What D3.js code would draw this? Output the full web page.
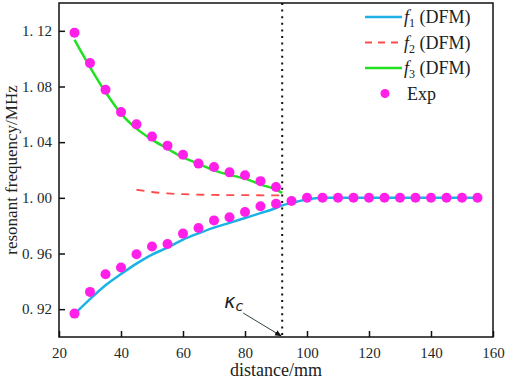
<!DOCTYPE html>
<html>
<head>
<meta charset="utf-8">
<script src="https://cdn.jsdelivr.net/npm/d3@7"></script>
<style>
  body { margin: 0; background: #fff; }
  svg text { font-family: "Liberation Serif", "Times New Roman", serif; fill: #1a2222; }
</style>
</head>
<body>
<div id="chart"></div>
<script>
// f1 (DFM) – lower branch, flattens to 1.00 after the critical distance
const f1X = [25, 30, 35, 40, 45, 50, 55, 60, 65, 70, 75, 80, 85, 90, 92, 95, 100, 105, 110, 120, 130, 140, 150, 155];
const f1Y = [0.9165, 0.9272, 0.9372, 0.9452, 0.9527, 0.9592, 0.9642, 0.970, 0.9745, 0.9786, 0.982, 0.9855, 0.989, 0.9927, 0.9946, 0.9963, 0.9989, 1.0, 1.0, 1.0, 1.0, 1.0, 1.0, 1.0];

// f2 (DFM) – dashed, close to 1.00
const f2X = [45, 50, 55, 60, 70, 80, 92];
const f2Y = [1.0058, 1.0042, 1.0032, 1.0026, 1.0021, 1.0019, 1.0018];

// f3 (DFM) – upper branch
const f3X = [25, 30, 35, 40, 45, 50, 55, 60, 65, 70, 75, 80, 85, 90, 92];
const f3Y = [1.1136, 1.094, 1.076, 1.0605, 1.0497, 1.0418, 1.0353, 1.029, 1.0245, 1.0197, 1.0165, 1.0138, 1.0095, 1.0059, 1.0035];

// experimental points
const expX = [25, 30, 35, 40, 45, 50, 55, 60, 65, 70, 75, 80, 85, 90,
              25, 30, 35, 40, 45, 50, 55, 60, 65, 70, 75, 80, 85, 90,
              95, 100, 105, 110, 115, 120, 125, 130, 135, 140, 145, 150, 155];
const expY = [1.1187, 1.0968, 1.0777, 1.0616, 1.0528, 1.044, 1.0375, 1.031, 1.0246, 1.0221, 1.0183, 1.0162, 1.012, 1.0078,
              0.9168, 0.9324, 0.9451, 0.9499, 0.9594, 0.965, 0.9668, 0.9743, 0.9783, 0.9838, 0.986, 0.9898, 0.9939, 0.9958,
              0.9977, 1.0, 1.0, 1.0, 1.0, 1.0, 1.0, 1.0, 1.0, 1.0, 1.0, 1.0, 1.0];

const xTicks = [20, 40, 60, 80, 100, 120, 140, 160];
const yTicks = [0.92, 0.96, 1.00, 1.04, 1.08, 1.12];
const kappaC = 92;

const W = 505, H = 383;
const margin = { top: 3, right: 12, bottom: 46, left: 59 };
const width = W - margin.left - margin.right;
const height = H - margin.top - margin.bottom;

const colors = { f1: "#1cb2e6", f2: "#ff4b4b", f3: "#22e022", exp: "#ff1fe8" };

const svg = d3.select("#chart").append("svg")
  .attr("width", W)
  .attr("height", H);

const defs = svg.append("defs");
defs.append("marker")
  .attr("id", "arrow")
  .attr("viewBox", "0 0 10 10")
  .attr("refX", 9).attr("refY", 5)
  .attr("markerWidth", 7).attr("markerHeight", 7)
  .attr("orient", "auto")
  .append("path")
  .attr("d", "M0,1 L10,5 L0,9 Z")
  .attr("fill", "#111");

const g = svg.append("g")
  .attr("transform", `translate(${margin.left},${margin.top})`);

const x = d3.scaleLinear().domain([20, 160]).range([0, width]);
const y = d3.scaleLinear().domain([0.90, 1.14]).range([height, 0]);

// axes with inward ticks
const xAxis = g.append("g")
  .attr("transform", `translate(0,${height})`)
  .call(d3.axisBottom(x).tickValues(xTicks).tickSizeInner(-6).tickSizeOuter(0).tickPadding(10).tickFormat(d3.format("d")));
const yAxis = g.append("g")
  .call(d3.axisLeft(y).tickValues(yTicks).tickSizeInner(-6).tickSizeOuter(0).tickPadding(7)
    .tickFormat(d => d3.format(".2f")(d).replace(".", ". ")));

[xAxis, yAxis].forEach(a => {
  a.select(".domain").remove();
  a.selectAll(".tick line").attr("stroke", "#111").attr("stroke-width", 1.5);
  a.selectAll("text").attr("font-size", "15px").style("fill", "#1a2a2a");
});

// frame
g.append("rect")
  .attr("x", 0).attr("y", 0)
  .attr("width", width).attr("height", height)
  .attr("fill", "none")
  .attr("stroke", "#111")
  .attr("stroke-width", 1.5);

// axis labels
g.append("text")
  .attr("x", width / 2)
  .attr("y", height + 39)
  .attr("text-anchor", "middle")
  .attr("font-size", "18px")
  .text("distance/mm");

g.append("text")
  .attr("transform", "rotate(-90)")
  .attr("x", -height / 2)
  .attr("y", -42)
  .attr("text-anchor", "middle")
  .attr("font-size", "17px")
  .text("resonant frequency/MHz");

// critical distance
g.append("line")
  .attr("x1", x(kappaC)).attr("x2", x(kappaC))
  .attr("y1", 0).attr("y2", height)
  .attr("stroke", "#111")
  .attr("stroke-width", 2)
  .attr("stroke-dasharray", "2,4.6");

const line = d3.line()
  .x(d => x(d[0]))
  .y(d => y(d[1]))
  .curve(d3.curveMonotoneX);

g.append("path")
  .datum(f2X.map((v, i) => [v, f2Y[i]]))
  .attr("d", line)
  .attr("fill", "none")
  .attr("stroke", colors.f2)
  .attr("stroke-width", 1.8)
  .attr("stroke-dasharray", "8,7");

g.append("path")
  .datum(f3X.map((v, i) => [v, f3Y[i]]))
  .attr("d", line)
  .attr("fill", "none")
  .attr("stroke", colors.f3)
  .attr("stroke-width", 2.5);

g.append("path")
  .datum(f1X.map((v, i) => [v, f1Y[i]]))
  .attr("d", line)
  .attr("fill", "none")
  .attr("stroke", colors.f1)
  .attr("stroke-width", 2.5);

g.selectAll(".exp")
  .data(expX.map((v, i) => [v, expY[i]]))
  .enter()
  .append("circle")
  .attr("class", "exp")
  .attr("cx", d => x(d[0]))
  .attr("cy", d => y(d[1]))
  .attr("r", 5)
  .attr("fill", colors.exp);

// kappa_c annotation
const kLabel = g.append("text")
  .attr("x", x(kappaC) - 58)
  .attr("y", 305)
  .attr("font-size", "19px")
  .style("font-family", "'DejaVu Sans', sans-serif")
  .style("font-style", "italic");
kLabel.append("tspan").text("κ");
kLabel.append("tspan").attr("font-size", "14px").attr("dy", 3).text("c");

g.append("line")
  .attr("x1", x(kappaC) - 39).attr("y1", 310)
  .attr("x2", x(kappaC) - 1).attr("y2", height - 1)
  .attr("stroke", "#2f4444")
  .attr("stroke-width", 1)
  .attr("marker-end", "url(#arrow)");

// legend
const legendRows = [
  { key: "f1", sub: "1", type: "line" },
  { key: "f2", sub: "2", type: "dash" },
  { key: "f3", sub: "3", type: "line" },
  { key: "exp", type: "dot" }
];

const legend = svg.append("g").attr("transform", "translate(365,17)");
const rows = legend.selectAll(".legend-item")
  .data(legendRows)
  .enter()
  .append("g")
  .attr("class", "legend-item")
  .attr("transform", (d, i) => `translate(0, ${i * 25.5})`);

rows.filter(d => d.type !== "dot").append("line")
  .attr("x1", 0).attr("x2", 37)
  .attr("y1", 0).attr("y2", 0)
  .attr("stroke", d => colors[d.key])
  .attr("stroke-width", d => d.type === "dash" ? 1.8 : 2.5)
  .attr("stroke-dasharray", d => d.type === "dash" ? "7,6" : null);

rows.filter(d => d.type === "dot").append("circle")
  .attr("cx", 20).attr("cy", 0).attr("r", 4.5)
  .attr("fill", colors.exp);

const legendText = rows.append("text")
  .attr("x", d => d.type === "dot" ? 42 : 39)
  .attr("y", 6)
  .attr("font-size", "18px");

legendText.filter(d => d.type !== "dot").each(function (d) {
  const t = d3.select(this);
  t.append("tspan").style("font-style", "italic").text("f");
  t.append("tspan").attr("font-size", "12px").attr("dy", 4).text(d.sub);
  t.append("tspan").attr("dy", -4).text(" (DFM)");
});
legendText.filter(d => d.type === "dot").text("Exp");
</script>
</body>
</html>
